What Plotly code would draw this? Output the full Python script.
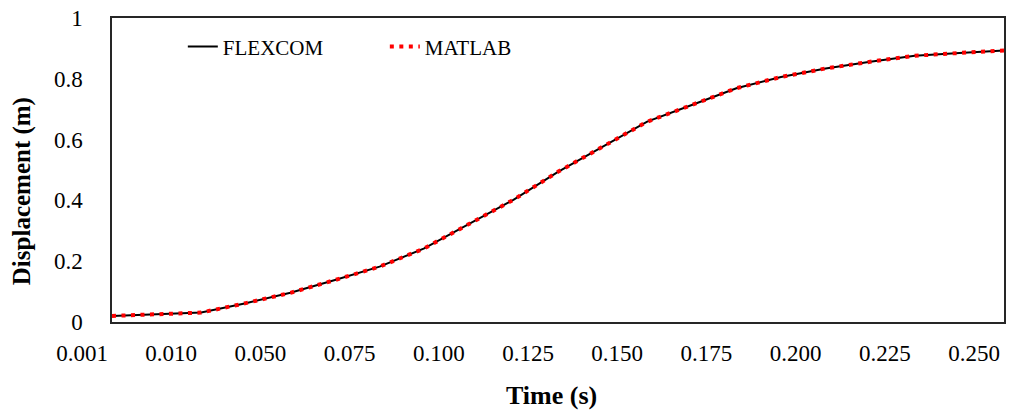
import plotly.graph_objects as go

# Category position index along the time axis (half-step samples)
time_index = [0, 0.5, 1, 1.5, 2, 2.5, 3, 3.5, 4, 4.5, 5, 5.5, 6, 6.5, 7, 7.5, 8, 8.5, 9, 9.5, 10]
flexcom = [0.020, 0.026, 0.031, 0.062, 0.096, 0.138, 0.182, 0.242, 0.322, 0.402, 0.494,
           0.576, 0.659, 0.714, 0.769, 0.806, 0.834, 0.856, 0.876, 0.885, 0.893]
matlab = [0.020, 0.026, 0.031, 0.062, 0.096, 0.138, 0.182, 0.242, 0.322, 0.402, 0.494,
          0.576, 0.659, 0.714, 0.769, 0.806, 0.834, 0.856, 0.876, 0.885, 0.893]
tick_pos = [0, 1, 2, 3, 4, 5, 6, 7, 8, 9, 10]
tick_labels = ["0.001", "0.010", "0.050", "0.075", "0.100", "0.125", "0.150",
               "0.175", "0.200", "0.225", "0.250"]
y_ticks = [0, 0.2, 0.4, 0.6, 0.8, 1]
y_labels = ["0", "0.2", "0.4", "0.6", "0.8", "1"]

FONT = "Liberation Serif"

fig = go.Figure()
fig.add_trace(go.Scatter(x=time_index, y=flexcom, mode="lines", name="FLEXCOM",
                         line=dict(color="black", width=2)))
fig.add_trace(go.Scatter(x=time_index, y=matlab, mode="lines", name="MATLAB",
                         line=dict(color="#ff0000", width=4, dash="4px,5.5px")))

fig.update_layout(
    width=1009, height=411,
    margin=dict(l=112, r=3, t=18, b=89),
    paper_bgcolor="white", plot_bgcolor="white",
    font=dict(family=FONT, size=23, color="black"),
    showlegend=True,
    legend=dict(orientation="h", x=0.0794, xanchor="left", y=0.905, yanchor="middle",
                font=dict(family=FONT, size=21, color="black"),
                bgcolor="rgba(0,0,0,0)", entrywidth=157),
    xaxis=dict(range=[0, 10], tickmode="array", tickvals=tick_pos, ticktext=tick_labels,
               showgrid=False, zeroline=False, ticks="", showline=True, mirror=True,
               linecolor="#262626", linewidth=1.5, ticklabelshift=-30, ticklabelstandoff=10,
               tickfont=dict(family=FONT, size=23, color="black")),
    yaxis=dict(range=[0, 1], tickmode="array", tickvals=y_ticks, ticktext=y_labels,
               showgrid=False, zeroline=False, ticks="", showline=True, mirror=True,
               linecolor="#262626", linewidth=1.5, ticklabelstandoff=23,
               tickfont=dict(family=FONT, size=23, color="black")),
    annotations=[
        dict(text="<b>Time (s)</b>", xref="paper", yref="paper", x=(552 - 112) / 894,
             y=(322 - 395) / 304, xanchor="center", yanchor="middle", showarrow=False,
             font=dict(family=FONT, size=26, color="black")),
        dict(text="<b>Displacement (m)</b>", xref="paper", yref="paper", x=(22 - 112) / 894,
             y=(322 - 191) / 304, xanchor="center", yanchor="middle", textangle=-90,
             showarrow=False, font=dict(family=FONT, size=25, color="black")),
    ],
)

fig.write_html("out.html")
